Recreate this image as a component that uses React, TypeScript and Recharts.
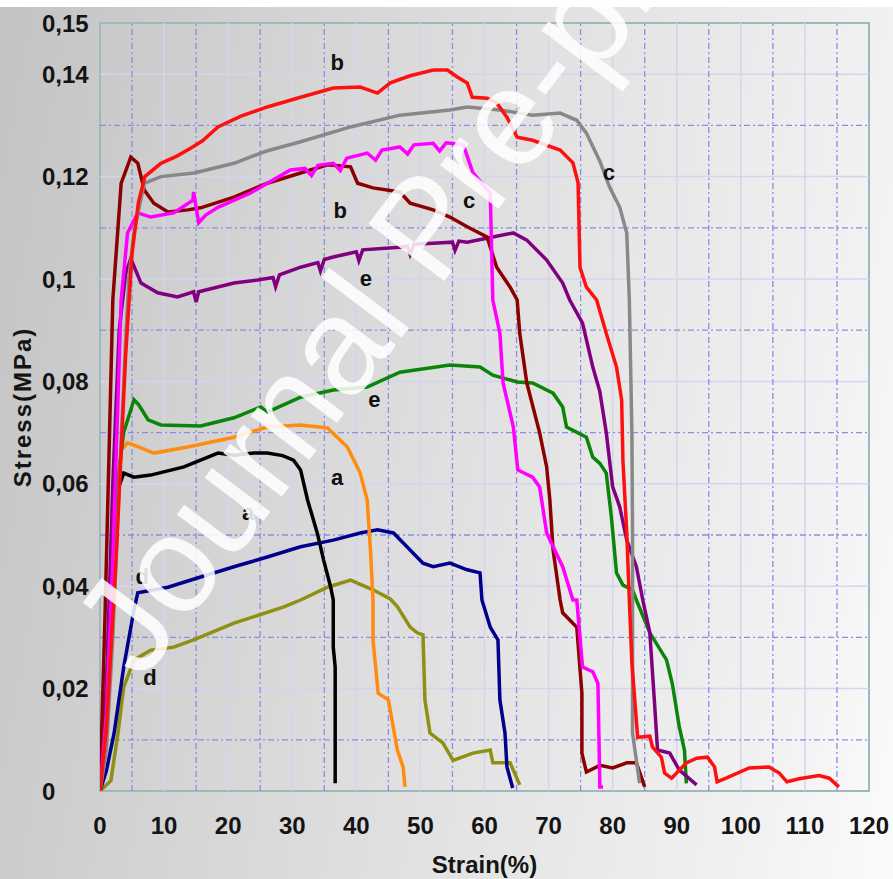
import React from 'react';
import { LineChart, Line, XAxis, YAxis, ReferenceLine, ReferenceDot, ReferenceArea } from 'recharts';

type Pt = [number, number];

const xTicks = [0, 10, 20, 30, 40, 50, 60, 70, 80, 90, 100, 110, 120];
const yTicks = [0, 0.02, 0.04, 0.06, 0.08, 0.1, 0.12, 0.14, 0.15];
const xMajorGrid = [10, 20, 30, 40, 50, 60, 70, 80, 90, 100, 110];
const xMinorGrid = [5, 15, 25, 35, 45, 55, 65, 75, 85, 95, 105, 115];
const yMajorGrid = [0.02, 0.04, 0.06, 0.08, 0.1, 0.12, 0.14];
const yMinorGrid = [0.01, 0.03, 0.05, 0.07, 0.09, 0.11, 0.13];

// red, upper "b"
const redB: Pt[] = [
  [0, 0], [1, 0.012], [2.5, 0.045], [4, 0.085], [5, 0.105], [6, 0.115], [7, 0.12], [9.5, 0.1226],
  [12, 0.124], [14.2, 0.1256], [16, 0.127], [18.4, 0.1297], [22, 0.1318], [26.1, 0.1336], [31.3, 0.1355],
  [36.4, 0.1373], [40.6, 0.1375], [43.3, 0.1363], [45.3, 0.1383], [48.4, 0.1397], [52, 0.1408],
  [54.2, 0.1408], [55.7, 0.1395], [57.3, 0.1383], [58.1, 0.1355], [60.4, 0.1353], [61.9, 0.1344],
  [63.5, 0.1316], [65.1, 0.1277], [67.5, 0.1271], [71.8, 0.1252], [73.8, 0.1227], [74.6, 0.1188],
  [74.9, 0.1023], [75.9, 0.0984], [77.5, 0.0959], [79, 0.0894], [80.6, 0.0828], [81.4, 0.0764],
  [81.6, 0.0646], [82.2, 0.0504], [82.6, 0.0373], [83, 0.025], [83.9, 0.0105], [85.8, 0.0107],
  [86.2, 0.0086], [87.6, 0.0066], [88.1, 0.0035], [89.2, 0.0025], [91.5, 0.0055], [93.1, 0.0064],
  [94.8, 0.0066], [95.9, 0.0047], [96.3, 0.0018], [97.7, 0.0025], [101.3, 0.0045], [104.4, 0.0047],
  [106, 0.0035], [107.2, 0.0018], [109.1, 0.0024], [112.2, 0.003], [113.8, 0.0025], [115.3, 0.0008],
];

// grey, upper "c"
const greyC: Pt[] = [
  [0, 0], [1, 0.008], [2, 0.03], [3, 0.06], [4, 0.088], [4.5, 0.1], [5.3, 0.109], [6.9, 0.1187],
  [9.5, 0.12], [14.7, 0.1207], [20.9, 0.1226], [26, 0.125], [31.3, 0.1268], [39.1, 0.1297],
  [46.8, 0.132], [54.6, 0.133], [57.3, 0.1336], [62.4, 0.133], [67.5, 0.132], [71.8, 0.1324],
  [74.4, 0.131], [75.9, 0.1285], [78, 0.123], [79.5, 0.118], [81.1, 0.114], [82.2, 0.109],
  [82.6, 0.0959], [83, 0.07], [83.1, 0.0504], [83.1, 0.0113], [84.2, 0.0015],
];

// magenta, lower "c"
const magentaC: Pt[] = [
  [0, 0], [1, 0.015], [2, 0.045], [3.3, 0.0959], [4.3, 0.109], [5.9, 0.1129], [7.9, 0.1121],
  [11.5, 0.1129], [14.5, 0.1154], [14.6, 0.117], [15.4, 0.111], [16.5, 0.1125], [18.4, 0.114],
  [23.5, 0.1168], [29.7, 0.1213], [32, 0.1216], [33, 0.1202], [34, 0.1222], [36.4, 0.1226],
  [37.5, 0.1212], [38.5, 0.1236], [41.7, 0.1246], [43, 0.1232], [44, 0.1252], [46.8, 0.1258],
  [48, 0.1244], [49, 0.1262], [52, 0.1265], [53, 0.125], [54, 0.1266], [56.7, 0.1262],
  [58.2, 0.1207], [60.9, 0.1168], [61.3, 0.0959], [62.4, 0.0894], [62.9, 0.0797], [64.5, 0.0711],
  [65.2, 0.0627], [67.5, 0.0613], [68.6, 0.0594], [69.7, 0.0504], [72.2, 0.0438], [73.8, 0.0373],
  [74.4, 0.0373], [75.3, 0.0242], [76.9, 0.0233], [77.7, 0.021], [78, 0.0008], [78.5, 0.0008],
];

// dark red, lower "b"
const maroonB: Pt[] = [
  [0, 0], [0.8, 0.035], [2, 0.0959], [3.3, 0.1187], [4.8, 0.1238], [5.9, 0.1226], [6.9, 0.1174],
  [8.4, 0.1148], [10.6, 0.1131], [13.7, 0.1135], [15.7, 0.1139], [20.9, 0.116], [26.1, 0.1187],
  [31.3, 0.1207], [35.5, 0.1223], [39.1, 0.1219], [40.2, 0.1187], [42.6, 0.1178], [46.8, 0.117],
  [48.4, 0.1148], [52, 0.1135], [54.6, 0.1121], [57.3, 0.1102], [60.4, 0.1082], [61.9, 0.1023],
  [64, 0.0984], [65.1, 0.0959], [65.5, 0.0894], [66.6, 0.0797], [68.6, 0.07], [69.7, 0.0633],
  [70.2, 0.0568], [70.7, 0.0471], [71.8, 0.0373], [72.2, 0.0348], [74.4, 0.032], [75.2, 0.0191],
  [75.2, 0.0074], [75.9, 0.0037], [78, 0.005], [80, 0.0045], [82.2, 0.0055], [83.7, 0.0055], [85, 0.0008],
];

// purple, upper "e"
const purpleE: Pt[] = [
  [0, 0], [1, 0.02], [2, 0.06], [3, 0.09], [4, 0.101], [4.8, 0.104], [5.1, 0.1031], [6.4, 0.0992],
  [9, 0.0973], [12.1, 0.0965], [14.6, 0.0975], [15, 0.0955], [15.4, 0.0975], [20.9, 0.0992],
  [24.6, 0.0998], [27, 0.1003], [27.4, 0.0985], [28, 0.1008], [31.3, 0.1023], [34, 0.1032],
  [34.4, 0.1016], [35, 0.1038], [36.4, 0.1043], [40, 0.1053], [40.4, 0.1036], [41, 0.1057],
  [46.8, 0.1062], [48, 0.1064], [48.4, 0.1048], [49, 0.1068], [52, 0.107], [55, 0.1072],
  [55.4, 0.1056], [56, 0.1074], [57.3, 0.1072], [61.3, 0.1082], [64.5, 0.109], [66.6, 0.1076],
  [69.7, 0.1037], [72.2, 0.0992], [73.3, 0.0959], [75.3, 0.0914], [76.9, 0.0828], [78, 0.078],
  [79, 0.07], [80, 0.0594], [81.1, 0.0555], [82.2, 0.049], [83.7, 0.0438], [84.7, 0.0373],
  [85.8, 0.0309], [86.5, 0.0178], [87, 0.008], [88.9, 0.0074], [90.4, 0.0041], [93.1, 0.0012],
];

// green, lower "e"
const greenE: Pt[] = [
  [0, 0], [1, 0.02], [2, 0.045], [3, 0.063], [3.7, 0.07], [5.3, 0.0764], [6, 0.0755], [7.5, 0.0725],
  [9.5, 0.0715], [15.7, 0.0713], [20.9, 0.0729], [25.1, 0.075], [26.1, 0.074], [31.3, 0.0769],
  [36.4, 0.0783], [41.7, 0.0789], [46.8, 0.0818], [54.6, 0.0832], [59.3, 0.0828], [61.3, 0.0812],
  [65.1, 0.0799], [67.5, 0.0797], [70.7, 0.0777], [72.2, 0.075], [72.8, 0.0711], [75.9, 0.0691],
  [76.9, 0.0652], [78, 0.064], [79, 0.0621], [79.8, 0.0535], [80.6, 0.0426], [81.6, 0.0402],
  [83.1, 0.0393], [83.7, 0.0373], [85.8, 0.0309], [88.4, 0.0256], [89.3, 0.021], [90.4, 0.0125],
  [91.2, 0.008], [91.5, 0.0015],
];

// orange, upper "a"
const orangeA: Pt[] = [
  [0, 0], [1, 0.015], [2, 0.04], [3.3, 0.0666], [4.3, 0.068], [6.4, 0.067], [8.4, 0.066],
  [13.7, 0.0672], [20.9, 0.0691], [26.1, 0.0711], [31.3, 0.0715], [35.5, 0.0709], [38.6, 0.0672],
  [40.6, 0.0621], [41.7, 0.0568], [42.2, 0.0471], [42.6, 0.0373], [42.6, 0.0295], [43.4, 0.0191],
  [45, 0.0178], [46.4, 0.008], [47.3, 0.0047], [47.6, 0.0008],
];

// black, lower "a"
const blackA: Pt[] = [
  [0, 0], [1, 0.012], [2.2, 0.0568], [3.7, 0.0621], [5.3, 0.0613], [7.9, 0.0617], [13.1, 0.0633],
  [18.4, 0.066], [20.9, 0.0656], [24, 0.066], [26.1, 0.066], [28.5, 0.0655], [30.2, 0.0646],
  [31.3, 0.0627], [32.4, 0.0568], [33.9, 0.0504], [34.9, 0.0451], [36, 0.0398], [36.4, 0.0373],
  [36.4, 0.0281], [36.7, 0.0242], [36.7, 0.0015],
];

// navy, upper "d"
const navyD: Pt[] = [
  [0, 0], [1, 0.004], [2.2, 0.0113], [3.7, 0.0242], [5.3, 0.0354], [5.9, 0.0387], [10.6, 0.0398],
  [15.7, 0.0418], [20.9, 0.0438], [26.1, 0.0457], [31.3, 0.0477], [36.4, 0.049], [40.6, 0.0504],
  [43.3, 0.051], [45.8, 0.0504], [47.9, 0.0477], [50.4, 0.0445], [52, 0.0438], [54.6, 0.0445],
  [57.3, 0.0432], [59.3, 0.0426], [59.6, 0.0373], [60.9, 0.032], [62.1, 0.0295], [62.4, 0.0178],
  [63.2, 0.0113], [63.5, 0.0047], [64.4, 0.0006],
];

// olive, lower "d"
const oliveD: Pt[] = [
  [0, 0], [1.7, 0.002], [2.8, 0.0113], [3.7, 0.0203], [5.3, 0.0256], [7.9, 0.0275], [11.5, 0.0281],
  [14.6, 0.0295], [20.9, 0.0328], [28.6, 0.0359], [31.3, 0.0373], [35.5, 0.0398], [39.1, 0.0412],
  [42.6, 0.0393], [45.3, 0.0375], [46.4, 0.036], [48.4, 0.032], [49.5, 0.0309], [50.4, 0.0305],
  [50.7, 0.0178], [51.5, 0.0113], [53.5, 0.0094], [55.1, 0.006], [58.2, 0.0074], [60.9, 0.008],
  [61.3, 0.0055], [64, 0.0055], [65.5, 0.0012],
];

const curveLetters: { x: number; y: number; t: string }[] = [
  { x: 37.0, y: 0.1424, t: 'b' },
  { x: 37.5, y: 0.1135, t: 'b' },
  { x: 79.4, y: 0.1209, t: 'c' },
  { x: 57.6, y: 0.1154, t: 'c' },
  { x: 41.5, y: 0.1002, t: 'e' },
  { x: 42.8, y: 0.0766, t: 'e' },
  { x: 37.0, y: 0.0613, t: 'a' },
  { x: 23.1, y: 0.0545, t: 'a' },
  { x: 6.6, y: 0.042, t: 'd' },
  { x: 7.8, y: 0.0223, t: 'd' },
];

const series = [
  { key: 'olive', color: '#8f8f12', pts: oliveD },
  { key: 'navy', color: '#00008f', pts: navyD },
  { key: 'black', color: '#000000', pts: blackA },
  { key: 'orange', color: '#ff8c10', pts: orangeA },
  { key: 'green', color: '#0a850a', pts: greenE },
  { key: 'purple', color: '#800080', pts: purpleE },
  { key: 'maroon', color: '#8b0000', pts: maroonB },
  { key: 'magenta', color: '#ff00ff', pts: magentaC },
  { key: 'grey', color: '#888888', pts: greyC },
  { key: 'red', color: '#ff1010', pts: redB },
].map((s) => ({ ...s, data: s.pts.map(([x, y]) => ({ x, y })) }));

const font = '"Liberation Sans", Arial, sans-serif';

const YTick = (props: any) => (
  <text x={42} y={props.y} dy={8.5} fontSize={24} fontWeight="bold" fill="#141414" fontFamily={font}>
    {String(props.payload.value).replace('.', ',')}
  </text>
);

const XTick = (props: any) => (
  <text x={props.x} y={props.y} dy={43} textAnchor="middle" fontSize={24} fontWeight="bold" fill="#141414" fontFamily={font}>
    {props.payload.value}
  </text>
);

export default function App() {
  return (
    <div
      style={{
        position: 'absolute',
        left: 0,
        top: 0,
        width: 893,
        height: 879,
        overflow: 'hidden',
        background: 'linear-gradient(100deg, #c3c3c3 0%, #d2d2d2 25%, #e2e2e2 55%, #f1f1f1 85%, #fbfbfb 100%)',
      }}
    >
      <div style={{ position: 'absolute', left: 0, top: 0, width: 893, height: 7, background: '#ffffff' }} />
      <LineChart width={893} height={879} margin={{ top: 23, right: 24, bottom: 0, left: 0 }}>
        <XAxis
          dataKey="x"
          type="number"
          domain={[0, 120]}
          ticks={xTicks}
          height={88}
          tick={<XTick />}
          tickSize={0}
          tickMargin={0}
          axisLine={false}
          allowDataOverflow
          label={{ value: 'Strain(%)', position: 'insideBottom', offset: 6, fontSize: 24, fontWeight: 'bold', fill: '#141414', fontFamily: font }}
        />
        <YAxis
          type="number"
          domain={[0, 0.15]}
          ticks={yTicks}
          width={100}
          tick={<YTick />}
          tickSize={0}
          axisLine={false}
          allowDataOverflow
          label={{
            value: 'Stress(MPa)',
            angle: -90,
            position: 'insideLeft',
            offset: 22,
            fontSize: 24,
            fontWeight: 'bold',
            fill: '#141414',
            fontFamily: font,
            style: { textAnchor: 'middle', letterSpacing: 2 },
          }}
        />
        {xMajorGrid.map((v) => (
          <ReferenceLine key={'xm' + v} x={v} stroke="#d4d4ef" strokeWidth={1.5} />
        ))}
        {yMajorGrid.map((v) => (
          <ReferenceLine key={'ym' + v} y={v} stroke="#d4d4ef" strokeWidth={1.5} />
        ))}
        {xMinorGrid.map((v) => (
          <ReferenceLine key={'xn' + v} x={v} stroke="#8c8ce6" strokeWidth={1.3} strokeDasharray="6 3 2 3" />
        ))}
        {yMinorGrid.map((v) => (
          <ReferenceLine key={'yn' + v} y={v} stroke="#8c8ce6" strokeWidth={1.3} strokeDasharray="6 3 2 3" />
        ))}
        <ReferenceArea x1={0} x2={120} y1={0} y2={0.15} fill="none" stroke="#9fb7bf" strokeWidth={2} />
        {series.map((s) => (
          <Line
            key={s.key}
            data={s.data}
            dataKey="y"
            type="linear"
            stroke={s.color}
            strokeWidth={3.5}
            dot={false}
            isAnimationActive={false}
          />
        ))}
        {curveLetters.map((l, i) => (
          <ReferenceDot
            key={'l' + i}
            x={l.x}
            y={l.y}
            r={1}
            fill="none"
            stroke="none"
            ifOverflow="visible"
            label={{ value: l.t, position: 'center', fontSize: 22, fontWeight: 'bold', fill: '#111', fontFamily: font }}
          />
        ))}
      </LineChart>
      <svg width={893} height={879} style={{ position: 'absolute', left: 0, top: 0, pointerEvents: 'none' }}>
        <text
          transform="translate(142,682) rotate(-53)"
          fontSize={138}
          fill="#ffffff"
          fillOpacity={0.86}
          fontFamily={font}
        >
          Journal Pre-proof
        </text>
      </svg>
    </div>
  );
}
